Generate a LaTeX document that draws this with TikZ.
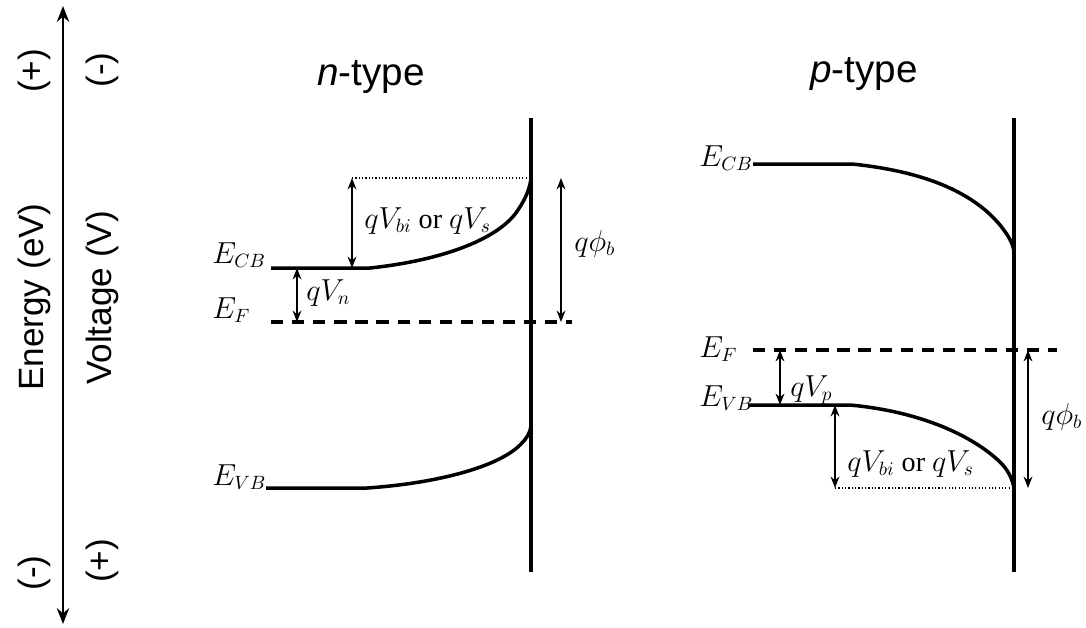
\documentclass[tikz,border=0pt]{standalone}
\usepackage{fontspec}
\setmainfont{Liberation Serif}
\setsansfont{Liberation Sans}
\usetikzlibrary{arrows.meta}

\begin{document}
\begin{tikzpicture}[x=0.02cm, y=-0.02cm,
  band/.style={line width=2pt},
  wall/.style={line width=1.9pt},
  fermi/.style={line width=2pt, dash pattern=on 7pt off 5pt},
  guide/.style={line width=0.7pt, dash pattern=on 0.7pt off 1.2pt},
  dim/.style={line width=1pt, {Stealth[length=6.5pt,width=5pt]}-{Stealth[length=6.5pt,width=5pt]}},
  lvl/.style={font=\rmfamily\fontsize{16}{18}\selectfont, inner sep=0pt},
  axlbl/.style={font=\sffamily\fontsize{20}{24}\selectfont, rotate=90, inner sep=0pt},
  ttl/.style={font=\sffamily\fontsize{22}{26}\selectfont, inner sep=0pt}]
\useasboundingbox (0,0) rectangle (1086,627);

% energy / voltage axis
\coordinate (axtop) at (63,6);
\coordinate (axbot) at (63,624);
\draw[line width=1.5pt, {Stealth[length=9pt,width=7pt]}-{Stealth[length=9pt,width=7pt]}] (axbot) -- (axtop);
\node[axlbl] (eplus) at (34,71) {(+)};
\node[axlbl] (energy) at (34,297) {Energy (eV)};
\node[axlbl] (eminus) at (34,573) {(-)};
\node[axlbl] (vminus) at (102,70) {(-)};
\node[axlbl] (voltage) at (102,298) {Voltage (V)};
\node[axlbl] (vplus) at (102,561) {(+)};

% n-type
\node[ttl, anchor=base west] (ntitle) at (317,85) {\textit{n}-type};
\coordinate (nwt) at (531,118); \coordinate (nwb) at (531,572);
\coordinate (ncb0) at (271,268); \coordinate (ncb1) at (370,268); \coordinate (ncbw) at (531,178);
\coordinate (nvb0) at (266,488); \coordinate (nvb1) at (367,488); \coordinate (nvbw) at (531,426);
\coordinate (nef0) at (271,322); \coordinate (nef1) at (572,322);
\coordinate (nbit) at (352,178); \coordinate (nbib) at (352,268);
\coordinate (nvnt) at (297,268); \coordinate (nvnb) at (297,322);
\coordinate (nphit) at (561,178); \coordinate (nphib) at (561,322);
\draw[wall] (nwt) -- (nwb);
\draw[band] (ncb0) -- (ncb1) .. controls (445,260) and (500,238) .. (518,210) .. controls (526,198) and (530,188) .. (ncbw);
\draw[band] (nvb0) -- (nvb1) .. controls (440,483) and (500,466) .. (521,444) .. controls (527,438) and (530,433) .. (nvbw);
\draw[fermi] (nef0) -- (nef1);
\draw[guide] (nbit) -- (ncbw);
\draw[dim] (nbit) -- (nbib);
\draw[dim] (nvnt) -- (nvnb);
\draw[dim] (nphit) -- (nphib);
\node[lvl, anchor=base west] (ncbl) at (212,263) {$E_{CB}$};
\node[lvl, anchor=base west] (nefl) at (212,318) {$E_F$};
\node[lvl, anchor=base west] (nvbl) at (212,485) {$E_{VB}$};
\node[lvl, anchor=base west] (nvnl) at (306,300) {$qV_n$};
\node[lvl, anchor=base west] (nbil) at (364,228) {$qV_{bi}$ or $qV_s$};
\node[lvl, anchor=base west] (nphil) at (574,251) {$q\phi_b$};

% p-type
\node[ttl, anchor=base west] (ptitle) at (810,82) {\textit{p}-type};
\coordinate (pwt) at (1014,118); \coordinate (pwb) at (1014,572);
\coordinate (pcb0) at (753,164); \coordinate (pcb1) at (852,164); \coordinate (pcbw) at (1014,252);
\coordinate (pvb0) at (748,405); \coordinate (pvb1) at (850,405); \coordinate (pvbw) at (1014,488);
\coordinate (pef0) at (753,350); \coordinate (pef1) at (1057,350);
\coordinate (pbit) at (835,405); \coordinate (pbib) at (835,488);
\coordinate (pvpt) at (780,350); \coordinate (pvpb) at (780,405);
\coordinate (pphit) at (1028,350); \coordinate (pphib) at (1028,488);
\draw[wall] (pwt) -- (pwb);
\draw[band] (pcb0) -- (pcb1) .. controls (930,172) and (975,195) .. (1000,225) .. controls (1008,235) and (1013,243) .. (pcbw);
\draw[band] (pvb0) -- (pvb1) .. controls (925,412) and (975,438) .. (1000,462) .. controls (1008,470) and (1012,478) .. (pvbw);
\draw[fermi] (pef0) -- (pef1);
\draw[guide] (pbib) -- (pvbw);
\draw[dim] (pbit) -- (pbib);
\draw[dim] (pvpt) -- (pvpb);
\draw[dim] (pphit) -- (pphib);
\node[lvl, anchor=base west] (pcbl) at (699,166) {$E_{CB}$};
\node[lvl, anchor=base west] (pefl) at (699,357) {$E_F$};
\node[lvl, anchor=base west] (pvbl) at (699,406) {$E_{VB}$};
\node[lvl, anchor=base west] (pvpl) at (790,396) {$qV_p$};
\node[lvl, anchor=base west] (pbil) at (847,471) {$qV_{bi}$ or $qV_s$};
\node[lvl, anchor=base west] (pphil) at (1041,424) {$q\phi_b$};
\end{tikzpicture}
\end{document}
